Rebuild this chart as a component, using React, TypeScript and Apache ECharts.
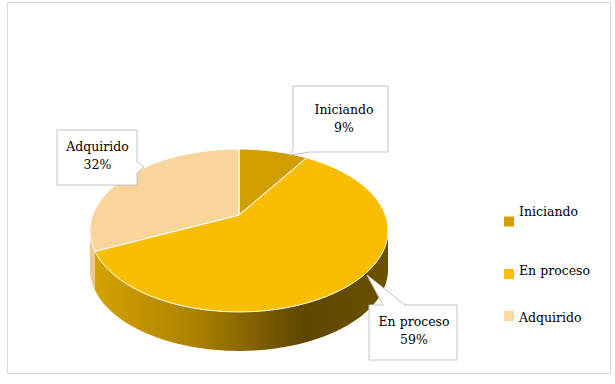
import React, { useEffect, useRef } from "react";
import * as echarts from "echarts";

const categories = ["Iniciando", "En proceso", "Adquirido"];
const values = [9, 59, 32];
const legendColors = ["#D49E00", "#FFC000", "#FFD8A0"];

// visual styling (not data)
const topColors = ["#D19E00", "#F9BE00", "#F9D59B"];
const FONT = "DejaVu Serif";
const FS = 12.5;

// pie geometry (perspective projection of a tilted disc)
const CX = 239;
const CY = 215;
const RX = 146.3;
const RY = 78.5;
const K = 0.19;
const DEPTH = 39;

const wallFills: any[] = [
  null,
  {
    type: "linear",
    x: 90,
    y: 0,
    x2: 388,
    y2: 0,
    global: true,
    colorStops: [
      { offset: 0, color: "#D6A400" },
      { offset: 0.35, color: "#AC8200" },
      { offset: 0.72, color: "#5E4600" },
      { offset: 1, color: "#6C5100" },
    ],
  },
  "#EFC889",
];

const boxes = [
  {
    points: [[293, 86], [388, 86], [388, 152], [310, 152], [290, 155], [293, 149]],
    tx: 344,
    ty: 118.5,
  },
  {
    points: [[369, 305], [383, 305], [367, 275], [405, 305], [457, 305], [457, 360], [369, 360]],
    tx: 414,
    ty: 330,
  },
  {
    points: [[57, 130], [137, 130], [137, 162], [144, 167], [137, 173], [137, 185], [57, 185]],
    tx: 97.5,
    ty: 155,
  },
];

const legendTops = [205, 264, 308];
const legendPads = [
  [0, 0, 20, 0],
  [0, 0, 7, 0],
  [3, 0, 0, 0],
];

function project(deg: number, dz: number): number[] {
  const r = (deg * Math.PI) / 180;
  const u = Math.sin(r);
  const v = Math.cos(r);
  const d = 1 + K * v;
  return [CX + (RX * u) / d, CY - (RY * v) / d + dz];
}

function arc(a: number, b: number, dz: number): number[][] {
  const pts: number[][] = [];
  const n = Math.max(2, Math.ceil(Math.abs(b - a)));
  for (let i = 0; i <= n; i++) pts.push(project(a + ((b - a) * i) / n, dz));
  return pts;
}

export default function App() {
  const ref = useRef<HTMLDivElement>(null);
  useEffect(() => {
    if (!ref.current) return;
    const chart = echarts.init(ref.current, null, { renderer: "svg" });
    const total = values.reduce((s, v) => s + v, 0);
    const visA = (Math.acos(-K) * 180) / Math.PI;
    const visB = 360 - visA;

    const series = categories.map((name, i) => ({
      type: "custom",
      name,
      coordinateSystem: "none",
      silent: true,
      itemStyle: { color: legendColors[i] },
      data: [[values[i]]],
      renderItem: (params: any, api: any) => {
        const before = values.slice(0, i).reduce((s, v) => s + v, 0);
        const start = (before / total) * 360;
        const end = start + ((api.value(0) as number) / total) * 360;
        const children: any[] = [];
        const a = Math.max(start, visA);
        const b = Math.min(end, visB);
        if (b > a) {
          const pts = arc(a, b, 0).concat(arc(a, b, DEPTH).reverse());
          children.push({
            type: "polygon",
            z2: 1,
            shape: { points: pts },
            style: { fill: wallFills[i] || topColors[i], stroke: null },
          });
        }
        children.push({
          type: "polygon",
          z2: 2,
          shape: { points: [[CX, CY]].concat(arc(start, end, 0)) },
          style: { fill: topColors[i], stroke: "#FFFFFF", lineWidth: 1 },
        });
        const bx = boxes[i];
        children.push({
          type: "polygon",
          z2: 3,
          shape: { points: bx.points },
          style: { fill: "#FFFFFF", stroke: "#C4C4C4", lineWidth: 1 },
        });
        const pct = Math.round((api.value(0) / total) * 100) + "%";
        children.push({
          type: "text",
          z2: 4,
          x: bx.tx,
          y: bx.ty,
          style: {
            text: name + "\n" + pct,
            fill: "#000000",
            fontSize: FS,
            fontFamily: FONT,
            align: "center",
            verticalAlign: "middle",
            lineHeight: 18,
          },
        });
        return { type: "group", children };
      },
    }));

    chart.setOption({
      animation: false,
      backgroundColor: "#FFFFFF",
      graphic: [
        {
          type: "rect",
          shape: { x: 7.5, y: 2.5, width: 603, height: 371 },
          style: { fill: "none", stroke: "#D9D9D9", lineWidth: 1 },
          silent: true,
        },
      ],
      legend: categories.map((c, i) => ({
        data: [c],
        orient: "vertical",
        left: 504,
        top: legendTops[i],
        padding: 0,
        itemWidth: 10,
        itemHeight: 10,
        icon: "rect",
        selectedMode: false,
        formatter: "{t|{name}}",
        textStyle: {
          fontFamily: FONT,
          fontSize: FS,
          color: "#000000",
          rich: {
            t: {
              fontFamily: FONT,
              fontSize: FS,
              color: "#000000",
              lineHeight: 18,
              padding: legendPads[i],
            },
          },
        },
      })),
      series,
    } as any);
    return () => chart.dispose();
  }, []);
  return (
    <div
      ref={ref}
      style={{ position: "absolute", left: 0, top: 0, width: 615, height: 384 }}
    />
  );
}
